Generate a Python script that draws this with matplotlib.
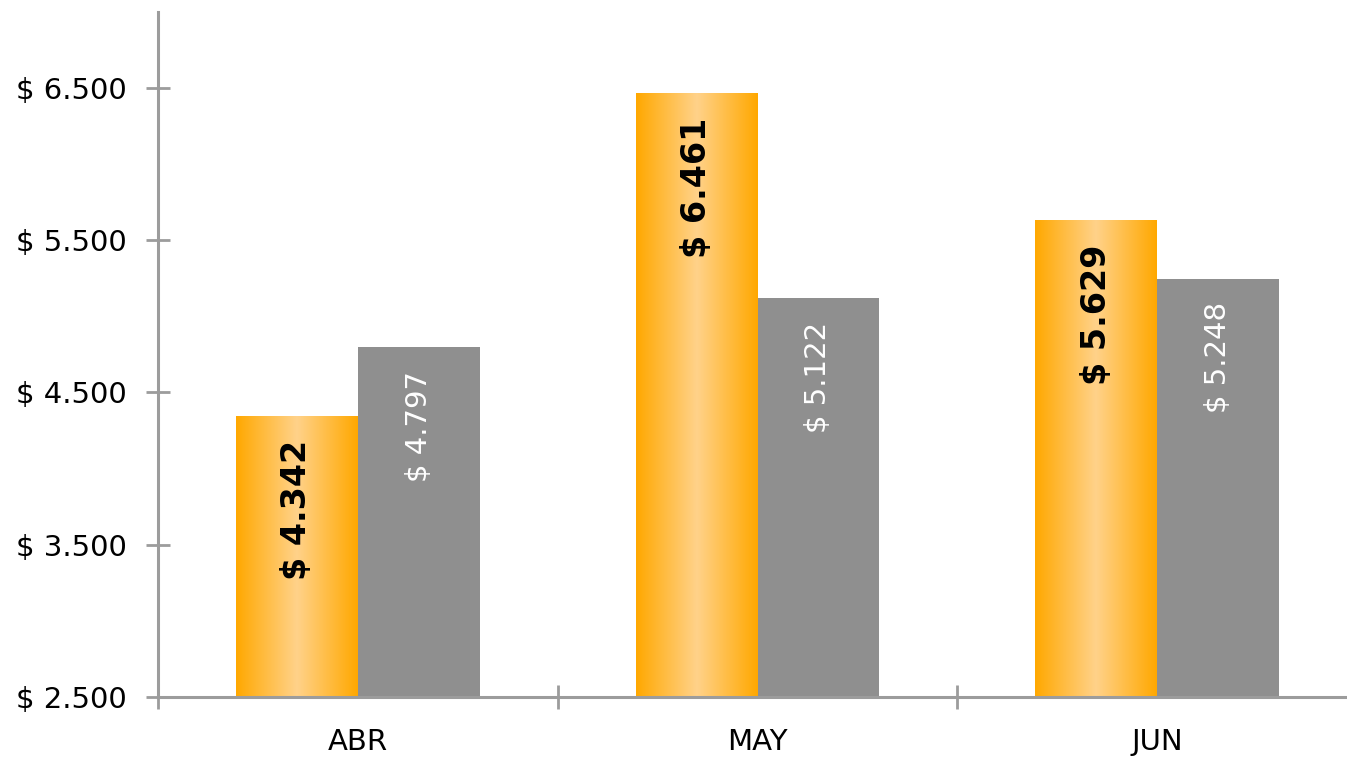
import matplotlib
matplotlib.use("Agg")
import matplotlib.pyplot as plt
import numpy as np
from matplotlib.colors import LinearSegmentedColormap

categories = ["ABR", "MAY", "JUN"]
series_orange = [4342, 6461, 5629]
series_gray = [4797, 5122, 5248]
yticks = [2500, 3500, 4500, 5500, 6500]

def fmt(v):
    return "$ " + f"{v:,}".replace(",", ".")

plt.rcParams['font.family'] = ['DejaVu Sans']

fig = plt.figure(figsize=(13.47, 7.57), dpi=100)
ax = fig.add_axes([0.1173, 0.0793, 0.8812, 0.905])

x = np.arange(len(categories))
w = 0.305
axis_color = "#9c9c9c"

ax.set_xlim(-0.5, 2.47)
ax.set_ylim(2500, 7000)
base = ax.get_ylim()[0]

bars_o = ax.bar(x - w / 2, series_orange, width=w, color="none", edgecolor="none", zorder=2)
bars_g = ax.bar(x + w / 2, series_gray, width=w, color="#8f8f8f", edgecolor="none", zorder=2)

cmap = LinearSegmentedColormap.from_list("og", ["#ffa800", "#ffd28a", "#ffa800"])
grad = np.linspace(0, 1, 256).reshape(1, -1)
for b in bars_o:
    x0 = b.get_x()
    bw, bh = b.get_width(), b.get_y() + b.get_height()
    ax.imshow(grad, cmap=cmap, aspect="auto", extent=(x0, x0 + bw, base, bh), zorder=2)

ax.set_xlim(-0.5, 2.47)
ax.set_ylim(2500, 7000)

for b, v in zip(bars_o, series_orange):
    ax.annotate(fmt(v), xy=(b.get_x() + b.get_width() / 2, v), xytext=(0, -17),
                textcoords="offset points", rotation=90, ha="center", va="top",
                fontsize=24, fontweight="bold", color="black", zorder=3)
for b, v in zip(bars_g, series_gray):
    ax.annotate(fmt(v), xy=(b.get_x() + b.get_width() / 2, v), xytext=(0, -17),
                textcoords="offset points", rotation=90, ha="center", va="top",
                fontsize=21, color="white", zorder=3)

ax.set_yticks(yticks)
ax.set_yticklabels([fmt(v) for v in yticks], fontsize=21)
ax.set_xticks(x)
ax.set_xticklabels(categories, fontsize=21)
ax.tick_params(axis="x", which="major", length=0, pad=22)
ax.set_xticks([-0.5, 0.5, 1.5], minor=True)
ax.tick_params(axis="x", which="minor", direction="inout", length=17, width=2, color=axis_color)
ax.tick_params(axis="y", direction="inout", length=17, width=2, color=axis_color, pad=14)

for s in ["top", "right"]:
    ax.spines[s].set_visible(False)
for s in ["left", "bottom"]:
    ax.spines[s].set_color(axis_color)
    ax.spines[s].set_linewidth(2.2)

fig.savefig("out.png", dpi=100)
